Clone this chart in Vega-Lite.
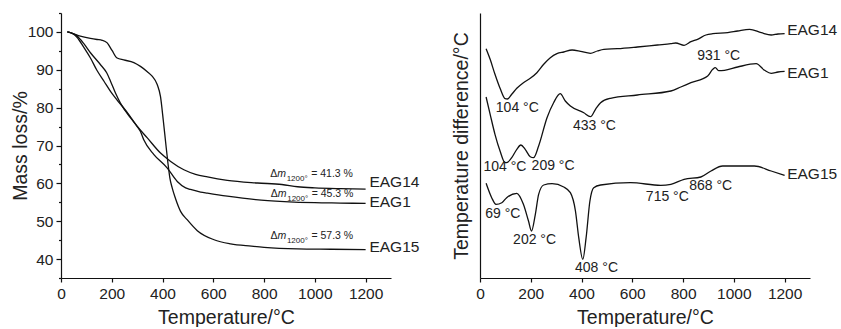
{
  "$schema": "https://vega.github.io/schema/vega-lite/v6.json",
  "padding": {"left": 10, "top": 12, "right": 0, "bottom": 0},
  "autosize": {"type": "pad"},
  "spacing": 89,
  "bounds": "flush",
  "config": {
    "view": {"stroke": null},
    "font": "Liberation Sans",
    "axis": {
      "domainColor": "#111", "tickColor": "#111", "labelColor": "#222", "titleColor": "#222",
      "labelFont": "Liberation Sans", "titleFont": "Liberation Sans", "titleFontWeight": "normal",
      "labelFontSize": 15.5, "titleFontSize": 19.5, "grid": false, "domainWidth": 1.2, "tickWidth": 1.2,
      "labelOverlap": false, "labelFlush": false
    }
  },
  "datasets": {
    "tg": [
      {"sample": "EAG14", "T": 25, "m": 100}, {"sample": "EAG14", "T": 45, "m": 99.6}, {"sample": "EAG14", "T": 63, "m": 98.6},
      {"sample": "EAG14", "T": 90, "m": 95.9}, {"sample": "EAG14", "T": 116, "m": 93.1}, {"sample": "EAG14", "T": 142, "m": 89.8},
      {"sample": "EAG14", "T": 170, "m": 86.9}, {"sample": "EAG14", "T": 195, "m": 84.3}, {"sample": "EAG14", "T": 221, "m": 82.0},
      {"sample": "EAG14", "T": 247, "m": 79.9}, {"sample": "EAG14", "T": 274, "m": 77.5}, {"sample": "EAG14", "T": 300, "m": 75.1},
      {"sample": "EAG14", "T": 340, "m": 72.0}, {"sample": "EAG14", "T": 392, "m": 68.0}, {"sample": "EAG14", "T": 432, "m": 65.8},
      {"sample": "EAG14", "T": 484, "m": 63.6}, {"sample": "EAG14", "T": 530, "m": 62.4}, {"sample": "EAG14", "T": 577, "m": 61.7},
      {"sample": "EAG14", "T": 655, "m": 60.8}, {"sample": "EAG14", "T": 774, "m": 60.1}, {"sample": "EAG14", "T": 870, "m": 59.7},
      {"sample": "EAG14", "T": 932, "m": 59.1}, {"sample": "EAG14", "T": 1000, "m": 58.8}, {"sample": "EAG14", "T": 1100, "m": 58.6},
      {"sample": "EAG14", "T": 1200, "m": 58.5},
      {"sample": "EAG1", "T": 25, "m": 100}, {"sample": "EAG1", "T": 45, "m": 99.6}, {"sample": "EAG1", "T": 63, "m": 98.9},
      {"sample": "EAG1", "T": 90, "m": 96.9}, {"sample": "EAG1", "T": 116, "m": 94.5}, {"sample": "EAG1", "T": 155, "m": 91.4},
      {"sample": "EAG1", "T": 180, "m": 89.2}, {"sample": "EAG1", "T": 195, "m": 87.0}, {"sample": "EAG1", "T": 215, "m": 83.8},
      {"sample": "EAG1", "T": 234, "m": 81.2}, {"sample": "EAG1", "T": 274, "m": 77.3}, {"sample": "EAG1", "T": 300, "m": 75.0},
      {"sample": "EAG1", "T": 313, "m": 73.7}, {"sample": "EAG1", "T": 326, "m": 71.5}, {"sample": "EAG1", "T": 366, "m": 67.6},
      {"sample": "EAG1", "T": 418, "m": 64.1}, {"sample": "EAG1", "T": 458, "m": 60.5}, {"sample": "EAG1", "T": 491, "m": 58.8},
      {"sample": "EAG1", "T": 510, "m": 58.4}, {"sample": "EAG1", "T": 550, "m": 57.7}, {"sample": "EAG1", "T": 577, "m": 57.4},
      {"sample": "EAG1", "T": 655, "m": 56.6}, {"sample": "EAG1", "T": 767, "m": 55.7}, {"sample": "EAG1", "T": 880, "m": 55.2},
      {"sample": "EAG1", "T": 1000, "m": 54.9}, {"sample": "EAG1", "T": 1100, "m": 54.8}, {"sample": "EAG1", "T": 1200, "m": 54.7},
      {"sample": "EAG15", "T": 25, "m": 100}, {"sample": "EAG15", "T": 45, "m": 99.6}, {"sample": "EAG15", "T": 76, "m": 98.9},
      {"sample": "EAG15", "T": 116, "m": 98.3}, {"sample": "EAG15", "T": 142, "m": 98.0}, {"sample": "EAG15", "T": 162, "m": 97.8},
      {"sample": "EAG15", "T": 182, "m": 97.1}, {"sample": "EAG15", "T": 201, "m": 95.1}, {"sample": "EAG15", "T": 221, "m": 93.1},
      {"sample": "EAG15", "T": 247, "m": 92.6}, {"sample": "EAG15", "T": 287, "m": 91.9}, {"sample": "EAG15", "T": 313, "m": 90.9},
      {"sample": "EAG15", "T": 340, "m": 89.5}, {"sample": "EAG15", "T": 359, "m": 88.3}, {"sample": "EAG15", "T": 379, "m": 86.1},
      {"sample": "EAG15", "T": 392, "m": 82.9}, {"sample": "EAG15", "T": 403, "m": 76.6}, {"sample": "EAG15", "T": 412, "m": 71.0},
      {"sample": "EAG15", "T": 421, "m": 65.5}, {"sample": "EAG15", "T": 429, "m": 61.4}, {"sample": "EAG15", "T": 438, "m": 58.8},
      {"sample": "EAG15", "T": 451, "m": 56.0}, {"sample": "EAG15", "T": 471, "m": 52.6}, {"sample": "EAG15", "T": 497, "m": 50.4},
      {"sample": "EAG15", "T": 537, "m": 47.5}, {"sample": "EAG15", "T": 603, "m": 45.1}, {"sample": "EAG15", "T": 668, "m": 44.0},
      {"sample": "EAG15", "T": 750, "m": 43.4}, {"sample": "EAG15", "T": 800, "m": 43.1}, {"sample": "EAG15", "T": 932, "m": 42.7},
      {"sample": "EAG15", "T": 1063, "m": 42.6}, {"sample": "EAG15", "T": 1200, "m": 42.5}
    ],
    "tgLabels": [
      {"label": "EAG14", "T": 1215, "m": 60.3},
      {"label": "EAG1", "T": 1215, "m": 55.1},
      {"label": "EAG15", "T": 1215, "m": 43.2}
    ],
    "delta": [
      {"txt": "= 41.3 %", "T": 824, "m": 62.5},
      {"txt": "= 45.3 %", "T": 826, "m": 57.3},
      {"txt": "= 57.3 %", "T": 825, "m": 46.0}
    ],
    "dta": [
      {"sample": "EAG14", "T": 24, "d": 229.3}, {"sample": "EAG14", "T": 40, "d": 218.7}, {"sample": "EAG14", "T": 59, "d": 203.7},
      {"sample": "EAG14", "T": 79, "d": 189.7}, {"sample": "EAG14", "T": 99, "d": 179.3}, {"sample": "EAG14", "T": 108, "d": 179.0},
      {"sample": "EAG14", "T": 125, "d": 183.7}, {"sample": "EAG14", "T": 145, "d": 189.7}, {"sample": "EAG14", "T": 171, "d": 195.3},
      {"sample": "EAG14", "T": 198, "d": 199.7}, {"sample": "EAG14", "T": 224, "d": 205.3}, {"sample": "EAG14", "T": 251, "d": 213.7},
      {"sample": "EAG14", "T": 277, "d": 220.3}, {"sample": "EAG14", "T": 303, "d": 224.3}, {"sample": "EAG14", "T": 330, "d": 226.0},
      {"sample": "EAG14", "T": 363, "d": 228.0}, {"sample": "EAG14", "T": 396, "d": 226.7}, {"sample": "EAG14", "T": 435, "d": 224.7},
      {"sample": "EAG14", "T": 462, "d": 227.0}, {"sample": "EAG14", "T": 488, "d": 228.7}, {"sample": "EAG14", "T": 541, "d": 229.3},
      {"sample": "EAG14", "T": 620, "d": 231.0}, {"sample": "EAG14", "T": 699, "d": 233.0}, {"sample": "EAG14", "T": 752, "d": 234.3},
      {"sample": "EAG14", "T": 771, "d": 235.0}, {"sample": "EAG14", "T": 804, "d": 232.7}, {"sample": "EAG14", "T": 831, "d": 236.3},
      {"sample": "EAG14", "T": 857, "d": 238.7}, {"sample": "EAG14", "T": 890, "d": 243.0}, {"sample": "EAG14", "T": 917, "d": 244.3},
      {"sample": "EAG14", "T": 976, "d": 245.3}, {"sample": "EAG14", "T": 1015, "d": 247.0}, {"sample": "EAG14", "T": 1062, "d": 248.7},
      {"sample": "EAG14", "T": 1108, "d": 245.3}, {"sample": "EAG14", "T": 1147, "d": 243.0}, {"sample": "EAG14", "T": 1174, "d": 244.0},
      {"sample": "EAG14", "T": 1200, "d": 244.3},
      {"sample": "EAG1", "T": 24, "d": 181.0}, {"sample": "EAG1", "T": 40, "d": 163.7}, {"sample": "EAG1", "T": 59, "d": 143.7},
      {"sample": "EAG1", "T": 79, "d": 127.0}, {"sample": "EAG1", "T": 99, "d": 115.3}, {"sample": "EAG1", "T": 108, "d": 115.7},
      {"sample": "EAG1", "T": 125, "d": 120.3}, {"sample": "EAG1", "T": 145, "d": 128.7}, {"sample": "EAG1", "T": 161, "d": 133.0},
      {"sample": "EAG1", "T": 178, "d": 128.7}, {"sample": "EAG1", "T": 198, "d": 121.3}, {"sample": "EAG1", "T": 211, "d": 120.3},
      {"sample": "EAG1", "T": 231, "d": 132.0}, {"sample": "EAG1", "T": 264, "d": 160.3}, {"sample": "EAG1", "T": 290, "d": 175.3},
      {"sample": "EAG1", "T": 316, "d": 184.3}, {"sample": "EAG1", "T": 336, "d": 177.0}, {"sample": "EAG1", "T": 356, "d": 172.0},
      {"sample": "EAG1", "T": 409, "d": 165.3}, {"sample": "EAG1", "T": 435, "d": 161.3}, {"sample": "EAG1", "T": 455, "d": 168.7},
      {"sample": "EAG1", "T": 475, "d": 175.3}, {"sample": "EAG1", "T": 514, "d": 179.7}, {"sample": "EAG1", "T": 620, "d": 183.0},
      {"sample": "EAG1", "T": 752, "d": 187.0}, {"sample": "EAG1", "T": 791, "d": 191.0}, {"sample": "EAG1", "T": 831, "d": 195.3},
      {"sample": "EAG1", "T": 897, "d": 202.0}, {"sample": "EAG1", "T": 917, "d": 208.7}, {"sample": "EAG1", "T": 927, "d": 210.3},
      {"sample": "EAG1", "T": 940, "d": 207.3}, {"sample": "EAG1", "T": 963, "d": 207.7}, {"sample": "EAG1", "T": 1015, "d": 211.0},
      {"sample": "EAG1", "T": 1088, "d": 214.3}, {"sample": "EAG1", "T": 1121, "d": 207.7}, {"sample": "EAG1", "T": 1147, "d": 204.7},
      {"sample": "EAG1", "T": 1174, "d": 206.0}, {"sample": "EAG1", "T": 1200, "d": 206.7},
      {"sample": "EAG15", "T": 24, "d": 94.7}, {"sample": "EAG15", "T": 46, "d": 80.3}, {"sample": "EAG15", "T": 63, "d": 73.7},
      {"sample": "EAG15", "T": 86, "d": 75.3}, {"sample": "EAG15", "T": 105, "d": 80.3}, {"sample": "EAG15", "T": 145, "d": 84.7},
      {"sample": "EAG15", "T": 171, "d": 73.7}, {"sample": "EAG15", "T": 191, "d": 57.0}, {"sample": "EAG15", "T": 203, "d": 47.0},
      {"sample": "EAG15", "T": 218, "d": 63.7}, {"sample": "EAG15", "T": 231, "d": 83.7}, {"sample": "EAG15", "T": 251, "d": 93.0},
      {"sample": "EAG15", "T": 284, "d": 94.3}, {"sample": "EAG15", "T": 330, "d": 91.0}, {"sample": "EAG15", "T": 356, "d": 85.3},
      {"sample": "EAG15", "T": 376, "d": 67.0}, {"sample": "EAG15", "T": 389, "d": 40.3}, {"sample": "EAG15", "T": 405, "d": 18.7},
      {"sample": "EAG15", "T": 418, "d": 40.3}, {"sample": "EAG15", "T": 433, "d": 77.0}, {"sample": "EAG15", "T": 448, "d": 90.3},
      {"sample": "EAG15", "T": 475, "d": 93.0}, {"sample": "EAG15", "T": 593, "d": 95.3}, {"sample": "EAG15", "T": 712, "d": 92.7},
      {"sample": "EAG15", "T": 752, "d": 93.7}, {"sample": "EAG15", "T": 804, "d": 98.7}, {"sample": "EAG15", "T": 870, "d": 101.0},
      {"sample": "EAG15", "T": 910, "d": 107.0}, {"sample": "EAG15", "T": 956, "d": 112.0}, {"sample": "EAG15", "T": 1081, "d": 112.0},
      {"sample": "EAG15", "T": 1147, "d": 107.0}, {"sample": "EAG15", "T": 1200, "d": 102.7}
    ],
    "dtaLabels": [
      {"label": "EAG14", "T": 1210, "d": 248},
      {"label": "EAG1", "T": 1210, "d": 205.3},
      {"label": "EAG15", "T": 1210, "d": 103.7}
    ],
    "peaks": [
      {"label": "104 °C", "T": 147, "d": 169.7},
      {"label": "433 °C", "T": 451, "d": 152},
      {"label": "931 °C", "T": 940, "d": 222},
      {"label": "104 °C", "T": 98, "d": 111.3},
      {"label": "209 °C", "T": 288, "d": 112},
      {"label": "69 °C", "T": 90, "d": 64.3},
      {"label": "202 °C", "T": 215, "d": 37.7},
      {"label": "408 °C", "T": 459, "d": 10.3},
      {"label": "715 °C", "T": 738, "d": 81},
      {"label": "868 °C", "T": 909, "d": 92}
    ]
  },
  "hconcat": [
    {
      "width": 330,
      "height": 265,
      "resolve": {"axis": {"y": "independent"}},
      "layer": [
        {
          "data": {"name": "tg"},
          "mark": {"type": "line", "color": "#111", "strokeWidth": 1.3, "interpolate": "monotone"},
          "encoding": {
            "x": {
              "field": "T", "type": "quantitative",
              "scale": {"domain": [0, 1300], "nice": false, "zero": false},
              "axis": {
                "values": [0, 100, 200, 300, 400, 500, 600, 700, 800, 900, 1000, 1100, 1200, 1300],
                "format": "d",
                "labelExpr": "datum.value % 200 === 0 ? datum.label : ''",
                "tickSize": {"condition": {"test": "datum.value % 200 === 0", "value": 4}, "value": 2.5},
                "labelPadding": 4, "title": "Temperature/°C", "titlePadding": 7
              }
            },
            "y": {
              "field": "m", "type": "quantitative",
              "scale": {"domain": [35, 105], "nice": false, "zero": false},
              "axis": {
                "orient": "left",
                "values": [40, 50, 60, 70, 80, 90, 100],
                "format": "d",
                "tickSize": 5,
                "labelPadding": 3, "title": "Mass loss/%", "titlePadding": -3
              }
            },
            "detail": {"field": "sample"}
          }
        },
        {
          "data": {"name": "tgLabels"},
          "mark": {"type": "text", "align": "left", "baseline": "middle", "fontSize": 15.5, "color": "#222", "font": "Liberation Sans"},
          "encoding": {
            "x": {"field": "T", "type": "quantitative"},
            "y": {
              "field": "m", "type": "quantitative",
              "axis": {"orient": "left", "values": [35, 45, 55, 65, 75, 85, 95, 105], "labels": false, "domain": false, "tickSize": 2.5, "title": null}
            },
            "text": {"field": "label"}
          }
        },
        {
          "data": {"name": "delta"},
          "mark": {"type": "text", "text": "Δ", "align": "left", "baseline": "middle", "fontSize": 10.5, "color": "#222", "font": "Liberation Sans"},
          "encoding": {
            "x": {"field": "T", "type": "quantitative"},
            "y": {"field": "m", "type": "quantitative", "axis": null}
          }
        },
        {
          "data": {"name": "delta"},
          "mark": {"type": "text", "text": "m", "align": "left", "baseline": "middle", "fontSize": 10.5, "fontStyle": "italic", "dx": 7, "color": "#222", "font": "Liberation Sans"},
          "encoding": {
            "x": {"field": "T", "type": "quantitative"},
            "y": {"field": "m", "type": "quantitative", "axis": null}
          }
        },
        {
          "data": {"name": "delta"},
          "mark": {"type": "text", "text": "1200°", "align": "left", "baseline": "middle", "fontSize": 8, "dx": 16.5, "dy": 5, "color": "#222", "font": "Liberation Sans"},
          "encoding": {
            "x": {"field": "T", "type": "quantitative"},
            "y": {"field": "m", "type": "quantitative", "axis": null}
          }
        },
        {
          "data": {"name": "delta"},
          "mark": {"type": "text", "align": "left", "baseline": "middle", "fontSize": 10.5, "dx": 41, "color": "#222", "font": "Liberation Sans"},
          "encoding": {
            "x": {"field": "T", "type": "quantitative"},
            "y": {"field": "m", "type": "quantitative", "axis": null},
            "text": {"field": "txt"}
          }
        }
      ]
    },
    {
      "width": 330,
      "height": 265,
      "layer": [
        {
          "data": {"name": "dta"},
          "mark": {"type": "line", "color": "#111", "strokeWidth": 1.3, "interpolate": "monotone"},
          "encoding": {
            "x": {
              "field": "T", "type": "quantitative",
              "scale": {"domain": [0, 1300], "nice": false, "zero": false},
              "axis": {
                "values": [0, 100, 200, 300, 400, 500, 600, 700, 800, 900, 1000, 1100, 1200, 1300],
                "format": "d",
                "labelExpr": "datum.value % 200 === 0 ? datum.label : ''",
                "tickSize": {"condition": {"test": "datum.value % 200 === 0", "value": 4}, "value": 2.5},
                "labelPadding": 4, "title": "Temperature/°C", "titlePadding": 7
              }
            },
            "y": {
              "field": "d", "type": "quantitative",
              "scale": {"domain": [0, 265], "nice": false, "zero": false},
              "axis": {"ticks": false, "labels": false, "title": "Temperature difference/°C", "titlePadding": 9}
            },
            "detail": {"field": "sample"}
          }
        },
        {
          "data": {"name": "dtaLabels"},
          "mark": {"type": "text", "align": "left", "baseline": "middle", "fontSize": 15.5, "color": "#222", "font": "Liberation Sans"},
          "encoding": {
            "x": {"field": "T", "type": "quantitative"},
            "y": {"field": "d", "type": "quantitative"},
            "text": {"field": "label"}
          }
        },
        {
          "data": {"name": "peaks"},
          "mark": {"type": "text", "align": "center", "baseline": "middle", "fontSize": 14, "color": "#222", "font": "Liberation Sans"},
          "encoding": {
            "x": {"field": "T", "type": "quantitative"},
            "y": {"field": "d", "type": "quantitative"},
            "text": {"field": "label"}
          }
        }
      ]
    }
  ]
}
